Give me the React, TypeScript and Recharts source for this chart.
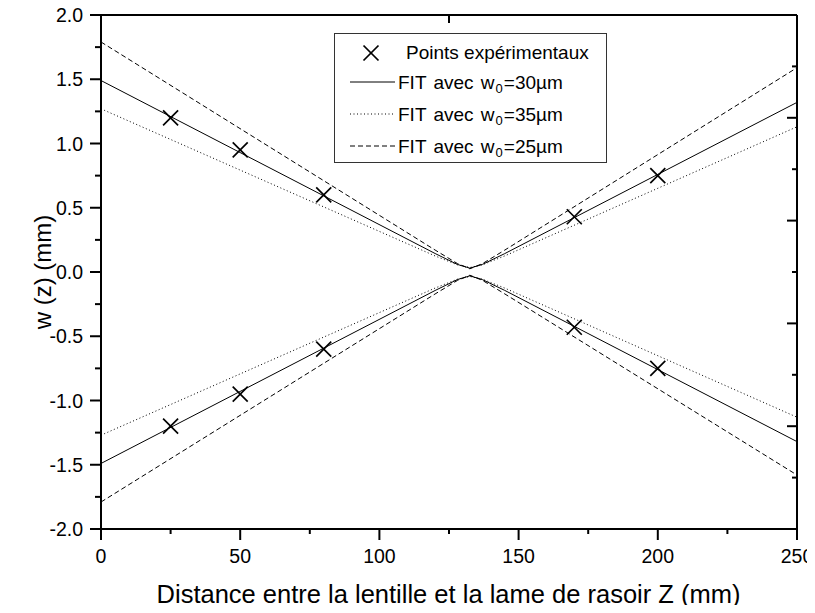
import { ComposedChart, Line, Scatter, XAxis, YAxis, Legend } from 'recharts';

// fitted beam radius curves (upper branch, lower branch mirrored)
const zFit = [0, 120, 128, 132.5, 137, 145, 250];
const fit30Up = [1.49, 0.144, 0.059, 0.03, 0.059, 0.143, 1.32];
const fit30Down = [-1.49, -0.144, -0.059, -0.03, -0.059, -0.143, -1.32];
const fit35Up = [1.27, 0.125, 0.056, 0.035, 0.056, 0.125, 1.13];
const fit35Down = [-1.27, -0.125, -0.056, -0.035, -0.056, -0.125, -1.13];
const fit25Up = [1.79, 0.171, 0.066, 0.025, 0.065, 0.17, 1.59];
const fit25Down = [-1.79, -0.171, -0.066, -0.025, -0.065, -0.17, -1.58];

// measured points
const zExp = [25, 50, 80, 170, 200];
const wExpUp = [1.2, 0.95, 0.6, 0.43, 0.75];
const wExpDown = [-1.2, -0.95, -0.6, -0.43, -0.75];

// axis ticks
const xTicks = [0, 25, 50, 75, 100, 125, 150, 175, 200, 225, 250];
const yTicks = [-2, -1.75, -1.5, -1.25, -1, -0.75, -0.5, -0.25, 0, 0.25, 0.5, 0.75, 1, 1.25, 1.5, 1.75, 2];
const rightTicks = [-2, -1.6, -1.2, -0.8, -0.4, 0, 0.4, 0.8, 1.2, 1.6, 2];
const topTicks = [0, 125, 250];

const legendFits = [
  { w0: '30', dash: undefined },
  { w0: '35', dash: '1 2.5' },
  { w0: '25', dash: '5 3' },
];

const fitRows = zFit.map((z, i) => ({
  z,
  fit30: fit30Up[i],
  fit30n: fit30Down[i],
  fit35: fit35Up[i],
  fit35n: fit35Down[i],
  fit25: fit25Up[i],
  fit25n: fit25Down[i],
}));

const points = [
  ...zExp.map((z, i) => ({ z, w: wExpUp[i] })),
  ...zExp.map((z, i) => ({ z, w: wExpDown[i] })),
];

const FONT = '"Liberation Sans", Arial, sans-serif';

const LeftTick = (props: any) => {
  const { x, y, payload } = props;
  const v = payload.value;
  const major = Math.abs(v * 2 - Math.round(v * 2)) < 1e-6;
  return (
    <g>
      <line x1={x} x2={x - (major ? 11 : 6)} y1={y} y2={y} stroke="#000" strokeWidth={2} />
      {major && (
        <text x={x - 18} y={y} dy="0.36em" textAnchor="end" fontSize={19.5} fontFamily={FONT} fill="#000">
          {v.toFixed(1)}
        </text>
      )}
    </g>
  );
};

const BottomTick = (props: any) => {
  const { x, y, payload } = props;
  const v = payload.value;
  const major = v % 50 === 0;
  return (
    <g>
      <line x1={x} x2={x} y1={y} y2={y + (major ? 11 : 5)} stroke="#000" strokeWidth={2} />
      {major && (
        <text x={x} y={y + 20} dy="0.72em" textAnchor="middle" fontSize={19.5} fontFamily={FONT} fill="#000">
          {v}
        </text>
      )}
    </g>
  );
};

const RightTick = (props: any) => {
  const { x, y, payload } = props;
  const a = Math.abs(payload.value);
  const major = Math.abs(a - 0.4) < 1e-6 || Math.abs(a - 1.2) < 1e-6 || Math.abs(a - 2) < 1e-6;
  return <line x1={x} x2={x - (major ? 10 : 5)} y1={y} y2={y} stroke="#000" strokeWidth={2} />;
};

const TopTick = (props: any) => {
  const { x, y } = props;
  return <line x1={x} x2={x} y1={y} y2={y + 8} stroke="#000" strokeWidth={2} />;
};

const Cross = (props: any) => {
  const { cx, cy } = props;
  const r = 7.5;
  return (
    <g stroke="#000" strokeWidth={1.7}>
      <line x1={cx - r} y1={cy - r} x2={cx + r} y2={cy + r} />
      <line x1={cx - r} y1={cy + r} x2={cx + r} y2={cy - r} />
    </g>
  );
};

const XTitle = (props: any) => {
  const { viewBox } = props;
  return (
    <text x={viewBox.x + viewBox.width / 2 - 0.5} y={viewBox.y + viewBox.height - 2} textAnchor="middle" fontSize={25.5} fontFamily={FONT} fill="#000">
      Distance entre la lentille et la lame de rasoir Z (mm)
    </text>
  );
};

const YTitle = (props: any) => {
  const { viewBox } = props;
  const cx = viewBox.x + 34;
  const cy = viewBox.y + viewBox.height / 2;
  return (
    <text x={cx} y={cy} transform={`rotate(-90 ${cx} ${cy})`} textAnchor="middle" dy="0.36em" fontSize={24} fontFamily={FONT} fill="#000">
      w (z) (mm)
    </text>
  );
};

const LegendBox = () => (
  <div
    style={{
      width: 273,
      height: 130,
      boxSizing: 'border-box',
      border: '1px solid #333',
      background: '#fff',
      paddingTop: 2,
      fontFamily: FONT,
      fontSize: 19,
      color: '#000',
    }}
  >
    <div style={{ display: 'flex', alignItems: 'center', height: 32 }}>
      <svg width={71} height={32} style={{ flex: 'none' }}>
        <Cross cx={36} cy={17} />
      </svg>
      <span style={{ lineHeight: 1 }}>Points expérimentaux</span>
    </div>
    {legendFits.map((f) => (
      <div key={f.w0} style={{ display: 'flex', alignItems: 'center', height: 32 }}>
        <svg width={63} height={32} style={{ flex: 'none' }}>
          <line x1={15} x2={60} y1={14} y2={14} stroke="#000" strokeWidth={1} strokeDasharray={f.dash} />
        </svg>
        <span style={{ lineHeight: 1, wordSpacing: 2 }}>
          FIT avec w<sub style={{ fontSize: 13, verticalAlign: '-0.35em', margin: '0 1px' }}>0</sub>={f.w0}µm
        </span>
      </div>
    ))}
  </div>
);

export default function App() {
  return (
    <div style={{ width: 807, height: 597, background: '#fff' }}>
      <style>{'html, body { overflow: hidden; } svg.recharts-surface { overflow: visible; display: block; }'}</style>
      <ComposedChart width={807} height={597} data={fitRows} margin={{ top: 0, right: 0, bottom: 0, left: 0 }}>
        <XAxis
          dataKey="z"
          type="number"
          domain={[0, 250]}
          ticks={xTicks}
          interval={0}
          allowDataOverflow
          height={76}
          tickSize={0}
          tickMargin={0}
          tickLine={false}
          axisLine={{ stroke: '#000', strokeWidth: 2 }}
          tick={<BottomTick />}
          label={<XTitle />}
        />
        <XAxis
          xAxisId="top"
          orientation="top"
          dataKey="z"
          type="number"
          domain={[0, 250]}
          ticks={topTicks}
          interval={0}
          allowDataOverflow
          height={7}
          tickSize={0}
          tickMargin={0}
          tickLine={false}
          axisLine={{ stroke: '#000', strokeWidth: 2 }}
          tick={<TopTick />}
        />
        <YAxis
          type="number"
          domain={[-2, 2]}
          ticks={yTicks}
          interval={0}
          allowDataOverflow
          width={93}
          tickSize={0}
          tickMargin={0}
          tickLine={false}
          axisLine={{ stroke: '#000', strokeWidth: 2 }}
          tick={<LeftTick />}
          label={<YTitle />}
        />
        <YAxis
          yAxisId="right"
          orientation="right"
          type="number"
          domain={[-2, 2]}
          ticks={rightTicks}
          interval={0}
          allowDataOverflow
          width={18}
          tickSize={0}
          tickMargin={0}
          tickLine={false}
          axisLine={{ stroke: '#000', strokeWidth: 2 }}
          tick={<RightTick />}
        />
        <Legend
          layout="vertical"
          align="center"
          verticalAlign="middle"
          wrapperStyle={{ left: 326, top: 25, width: 273 }}
          content={() => <LegendBox />}
        />
        <Line dataKey="fit30" stroke="#000" strokeWidth={1} dot={false} activeDot={false} isAnimationActive={false} />
        <Line dataKey="fit30n" stroke="#000" strokeWidth={1} dot={false} activeDot={false} isAnimationActive={false} />
        <Line dataKey="fit35" stroke="#000" strokeWidth={1} strokeDasharray="1 2.5" dot={false} activeDot={false} isAnimationActive={false} />
        <Line dataKey="fit35n" stroke="#000" strokeWidth={1} strokeDasharray="1 2.5" dot={false} activeDot={false} isAnimationActive={false} />
        <Line dataKey="fit25" stroke="#000" strokeWidth={1} strokeDasharray="5 3" dot={false} activeDot={false} isAnimationActive={false} />
        <Line
          dataKey="fit25n"
          xAxisId="top"
          yAxisId="right"
          stroke="#000"
          strokeWidth={1}
          strokeDasharray="5 3"
          dot={false}
          activeDot={false}
          isAnimationActive={false}
        />
        <Scatter data={points} dataKey="w" shape={<Cross />} isAnimationActive={false} />
      </ComposedChart>
    </div>
  );
}
